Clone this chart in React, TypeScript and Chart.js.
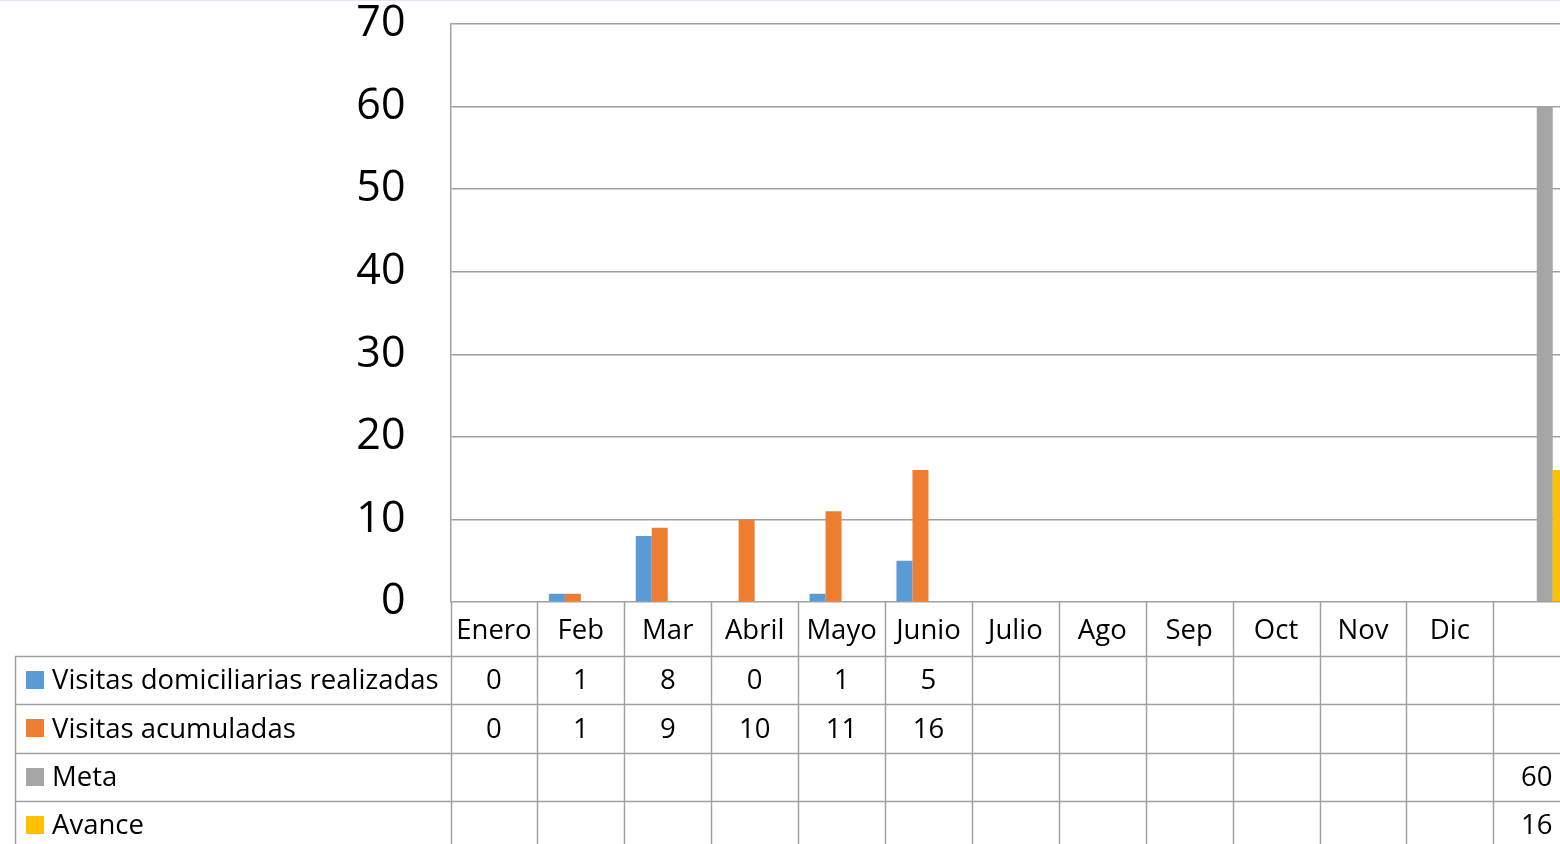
import React, { useEffect, useRef } from "react";
import { Chart, registerables } from "chart.js";

Chart.register(...registerables);

const categories = ["Enero", "Feb", "Mar", "Abril", "Mayo", "Junio", "Julio", "Ago", "Sep", "Oct", "Nov", "Dic", ""];
const realizadas = [0, 1, 8, 0, 1, 5, null, null, null, null, null, null, null];
const acumuladas = [0, 1, 9, 10, 11, 16, null, null, null, null, null, null, null];
const meta = [null, null, null, null, null, null, null, null, null, null, null, null, 60];
const avance = [null, null, null, null, null, null, null, null, null, null, null, null, 16];
const seriesNames = ["Visitas domiciliarias realizadas", "Visitas acumuladas", "Meta", "Avance"];
const seriesColors = ["#5B9BD5", "#ED7D31", "#A5A5A5", "#FFC000"];
const yMin = 0;
const yMax = 70;
const yStep = 10;

const FONT = "'Open Sans', Lato, sans-serif";
const LINE = "#a0a0a0";
const LW = 1.5;
const CANVAS_W = 1620;
const CANVAS_H = 880;

const tablePlugin = {
  id: "dataTable",
  afterDraw(chart: any) {
    const { ctx, chartArea } = chart;
    const xs = chart.scales.x;
    const w = xs.getPixelForValue(1) - xs.getPixelForValue(0);
    const top = chartArea.bottom;
    const headerH = 54;
    const rowH = 48.3;
    const leftX = 15;
    const n = categories.length;
    const rightX = xs.getPixelForValue(n - 1) + w / 2;
    const bottom = top + headerH + rowH * seriesNames.length;
    const px = (v: number) => Math.round(v) + 0.5;

    ctx.save();
    ctx.strokeStyle = LINE;
    ctx.lineWidth = LW;
    for (let i = 0; i <= n; i++) {
      const x = px(xs.getPixelForValue(0) - w / 2 + i * w);
      ctx.beginPath();
      ctx.moveTo(x, top);
      ctx.lineTo(x, bottom);
      ctx.stroke();
    }
    ctx.beginPath();
    ctx.moveTo(px(leftX), top + headerH);
    ctx.lineTo(px(leftX), bottom);
    ctx.stroke();
    for (let r = 0; r <= seriesNames.length; r++) {
      const y = px(top + headerH + r * rowH);
      ctx.beginPath();
      ctx.moveTo(leftX, y);
      ctx.lineTo(rightX, y);
      ctx.stroke();
    }

    ctx.fillStyle = "#000";
    ctx.font = `27.5px ${FONT}`;
    ctx.textBaseline = "middle";
    ctx.textAlign = "center";
    categories.forEach((c, i) => {
      ctx.fillText(c, xs.getPixelForValue(i), top + headerH / 2 + 2);
    });

    chart.data.datasets.forEach((ds: any, r: number) => {
      const cy = top + headerH + r * rowH + rowH / 2;
      ctx.fillStyle = seriesColors[r];
      ctx.fillRect(26, Math.round(cy - 9), 18, 18);
      ctx.fillStyle = "#000";
      ctx.textAlign = "left";
      ctx.fillText(seriesNames[r], 52, cy + 1.5);
      ctx.textAlign = "center";
      ds.data.forEach((v: number | null, i: number) => {
        if (v === null || v === undefined) return;
        ctx.fillText(String(v), xs.getPixelForValue(i), cy + 1.5);
      });
    });
    ctx.restore();
  },
};

export default function App() {
  const ref = useRef<HTMLCanvasElement>(null);

  useEffect(() => {
    if (!ref.current) return;
    const series = [realizadas, acumuladas, meta, avance];
    const chart = new Chart(ref.current, {
      type: "bar",
      data: {
        labels: categories,
        datasets: series.map((d, i) => ({
          label: seriesNames[i],
          data: d,
          backgroundColor: seriesColors[i],
          borderWidth: 0,
          categoryPercentage: 64 / 86.9,
          barPercentage: 1,
        })),
      },
      options: {
        animation: false,
        responsive: false,
        devicePixelRatio: 1,
        layout: { padding: { left: 0, right: CANVAS_W - 1580.2, top: 24, bottom: CANVAS_H - 602 } },
        plugins: { legend: { display: false }, tooltip: { enabled: false } },
        scales: {
          x: { display: false },
          y: {
            min: yMin,
            max: yMax,
            afterFit: (s: any) => {
              s.width = 450.5;
              s.paddingTop = 0;
              s.paddingBottom = 0;
            },
            ticks: {
              stepSize: yStep,
              padding: 45,
              color: "#000",
              font: { family: FONT, size: 43 },
            },
            grid: { color: LINE, lineWidth: LW, drawTicks: false },
            border: { display: true, color: LINE, width: LW },
          },
        },
      },
      plugins: [tablePlugin],
    });
    return () => chart.destroy();
  }, []);

  return (
    <div
      style={{
        position: "fixed",
        left: 0,
        top: 0,
        width: 1560,
        height: 844,
        overflow: "hidden",
        background: "#fff",
      }}
    >
      <div style={{ position: "absolute", left: 0, top: 0, width: 1560, height: 1, background: "#dfe6ef", zIndex: 2 }} />
      <canvas ref={ref} width={CANVAS_W} height={CANVAS_H} style={{ display: "block" }} />
    </div>
  );
}
